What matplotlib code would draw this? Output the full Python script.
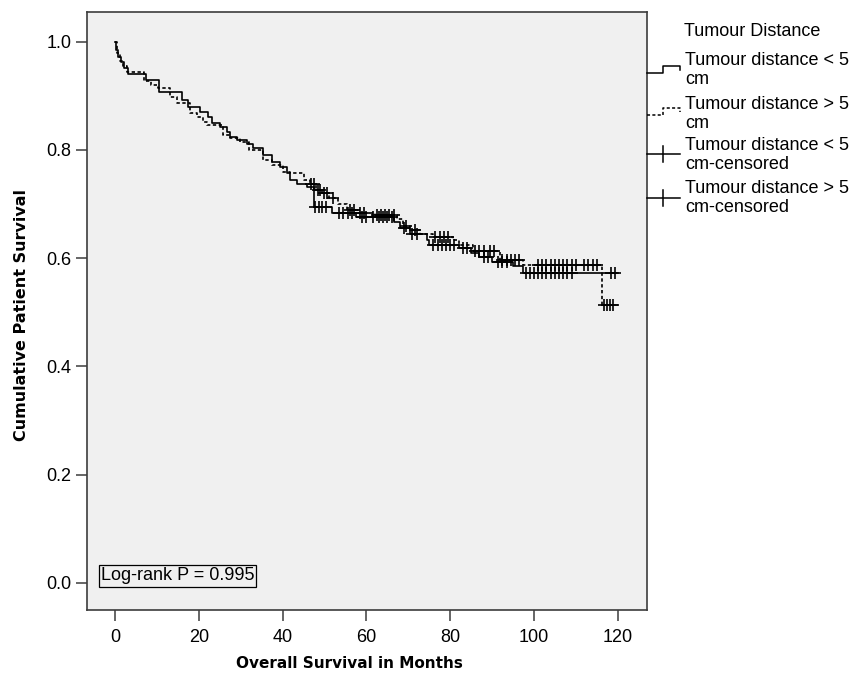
import numpy as np
import matplotlib
matplotlib.use('Agg')
import matplotlib.pyplot as plt
from matplotlib.lines import Line2D

# Kaplan-Meier steps (time in months, survival after the step)
lt5_times = [0, 0.3, 0.8, 1.5, 2.2, 3.0, 7.5, 10.5, 16.0, 17.5, 20.3, 22.3, 23.1, 25.1, 26.7,
             27.4, 29.0, 31.4, 33.0, 35.4, 37.4, 39.4, 41.0, 41.8, 43.4, 45.8, 47.5, 51.7,
             57.5, 66.5, 68.0, 70.4, 74.4, 75.0, 82.0, 85.0, 87.0, 90.0, 95.0, 97.4, 120.0]
lt5_surv = [1.0, 0.985, 0.972, 0.962, 0.951, 0.940, 0.930, 0.907, 0.892, 0.880, 0.870, 0.861,
            0.849, 0.843, 0.833, 0.824, 0.818, 0.812, 0.803, 0.790, 0.778, 0.769, 0.757, 0.744,
            0.738, 0.732, 0.695, 0.684, 0.676, 0.667, 0.655, 0.645, 0.633, 0.624, 0.618, 0.609,
            0.603, 0.593, 0.585, 0.573, 0.573]

gt5_times = [0, 0.5, 1.2, 2.0, 2.8, 7.0, 8.5, 10.3, 13.1, 14.7, 17.9, 19.5, 21.0, 22.0, 25.8,
             27.5, 29.8, 32.0, 35.4, 37.5, 40.2, 41.8, 45.0, 46.5, 48.0, 49.5, 51.0, 53.3, 55.3,
             58.0, 62.0, 67.2, 68.8, 70.5, 72.8, 76.0, 80.7, 82.0, 85.5, 92.0, 97.4, 116.2, 120.0]
gt5_surv = [1.0, 0.98, 0.965, 0.955, 0.944, 0.927, 0.92, 0.914, 0.898, 0.886, 0.868, 0.861,
            0.852, 0.846, 0.827, 0.822, 0.815, 0.800, 0.781, 0.772, 0.760, 0.757, 0.745, 0.738,
            0.727, 0.720, 0.712, 0.701, 0.689, 0.683, 0.679, 0.672, 0.660, 0.652, 0.645, 0.640,
            0.633, 0.625, 0.614, 0.596, 0.587, 0.513, 0.513]

# censored times
lt5_censor = [47.8, 48.6, 49.4, 50.3, 53.5, 54.5, 55.5, 56.5, 59, 60, 61.5, 63, 64, 65, 66, 69,
              71, 72, 76, 77, 78, 79, 80, 81, 83, 84, 88, 89, 91.5, 92.5, 93.5, 98, 99, 100,
              101, 102, 103, 104, 105, 106, 107, 108, 109, 118.3, 119.3]
gt5_censor = [46.8, 47.4, 48.5, 49, 50, 50.5, 52, 56, 57, 58.5, 59.5, 62.5, 63.5, 64.5, 65.5,
              66.5, 69.5, 71.5, 76.5, 77.5, 78.5, 79.5, 86, 87, 88, 89.5, 90.5, 92.5, 93.5,
              94.5, 95.5, 96.5, 101, 102, 103, 104, 105, 106, 107, 108, 109, 110, 112, 113,
              114, 115, 116.8, 117.5, 118.2, 119]

legend_labels = ['Tumour distance < 5\ncm', 'Tumour distance > 5\ncm',
                 'Tumour distance < 5\ncm-censored', 'Tumour distance > 5\ncm-censored']

plt.rcParams['font.family'] = ['Liberation Sans', 'DejaVu Sans']
W, H = 862, 681
fig = plt.figure(figsize=(W / 100, H / 100), dpi=100)
ax = fig.add_axes([87 / W, 1 - 610 / H, 560 / W, 598 / H])
ax.set_facecolor('#f0f0f0')


def at_censor(times, surv, cens):
    t = np.array(times)
    s = np.array(surv)
    idx = np.searchsorted(t, np.array(cens), side='right') - 1
    return s[idx]


ax.step(lt5_times, lt5_surv, where='post', color='black', lw=1.2)
ax.step(gt5_times, gt5_surv, where='post', color='black', lw=1.2, linestyle=(0, (2, 1.5)))
ax.plot(lt5_censor, at_censor(lt5_times, lt5_surv, lt5_censor), '+', color='black', ms=9, mew=1.2)
ax.plot(gt5_censor, at_censor(gt5_times, gt5_surv, gt5_censor), '+', color='black', ms=9, mew=1.2)

ax.set_xlim(-6.7, 127)
ax.set_ylim(-0.05, 1.055)
ax.set_xticks([0, 20, 40, 60, 80, 100, 120])
ax.set_yticks([0.0, 0.2, 0.4, 0.6, 0.8, 1.0])
ax.set_yticklabels(['0.0', '0.2', '0.4', '0.6', '0.8', '1.0'])
for sp in ax.spines.values():
    sp.set_color('#3c3c3c')
    sp.set_linewidth(1.2)
ax.tick_params(direction='out', length=8, width=1.1, color='#3c3c3c', labelsize=13)
ax.tick_params(axis='x', pad=6)
ax.tick_params(axis='y', pad=3)

ax.text(-3.4, 0.013, 'Log-rank P = 0.995', fontsize=13, va='center', ha='left',
        bbox=dict(boxstyle='square,pad=0.12', fc='#f0f0f0', ec='black', lw=0.9))

fig.text(349 / W, 1 - 663 / H, 'Overall Survival in Months', family='DejaVu Sans',
         fontweight='bold', fontsize=11, ha='center', va='center')
fig.text(22 / W, 1 - 315 / H, 'Cumulative Patient Survival', family='DejaVu Sans',
         fontweight='bold', fontsize=11.5, ha='center', va='center', rotation=90)

# legend, drawn by hand in pixel positions
def px(x, y):
    return x / W, 1 - y / H


fig.text(*px(684, 32), 'Tumour Distance', fontsize=13, va='center', ha='left')
text_y = [70, 114, 155, 198]
sample_y = [73, 115, 154, 198]
for i, lab in enumerate(legend_labels):
    fig.text(*px(685, text_y[i]), lab, fontsize=13, va='center', ha='left', linespacing=1.12)
    y0 = sample_y[i]
    if i < 2:
        xs = [647, 663, 663, 680, 680]
        ys = [y0, y0, y0 - 7, y0 - 7, y0 - 3]
        ls = '-' if i == 0 else (0, (2, 1.5))
        fx, fy = zip(*[px(a, b) for a, b in zip(xs, ys)])
        fig.add_artist(Line2D(fx, fy, color='black', lw=1.1, linestyle=ls, transform=fig.transFigure))
    else:
        fx, fy = zip(*[px(a, b) for a, b in [(647, y0), (680, y0)]])
        fig.add_artist(Line2D(fx, fy, color='black', lw=1.1, transform=fig.transFigure))
        fx, fy = zip(*[px(a, b) for a, b in [(663, y0 - 8), (663, y0 + 8)]])
        fig.add_artist(Line2D(fx, fy, color='black', lw=1.1, transform=fig.transFigure))

fig.savefig('out.png', dpi=100)
